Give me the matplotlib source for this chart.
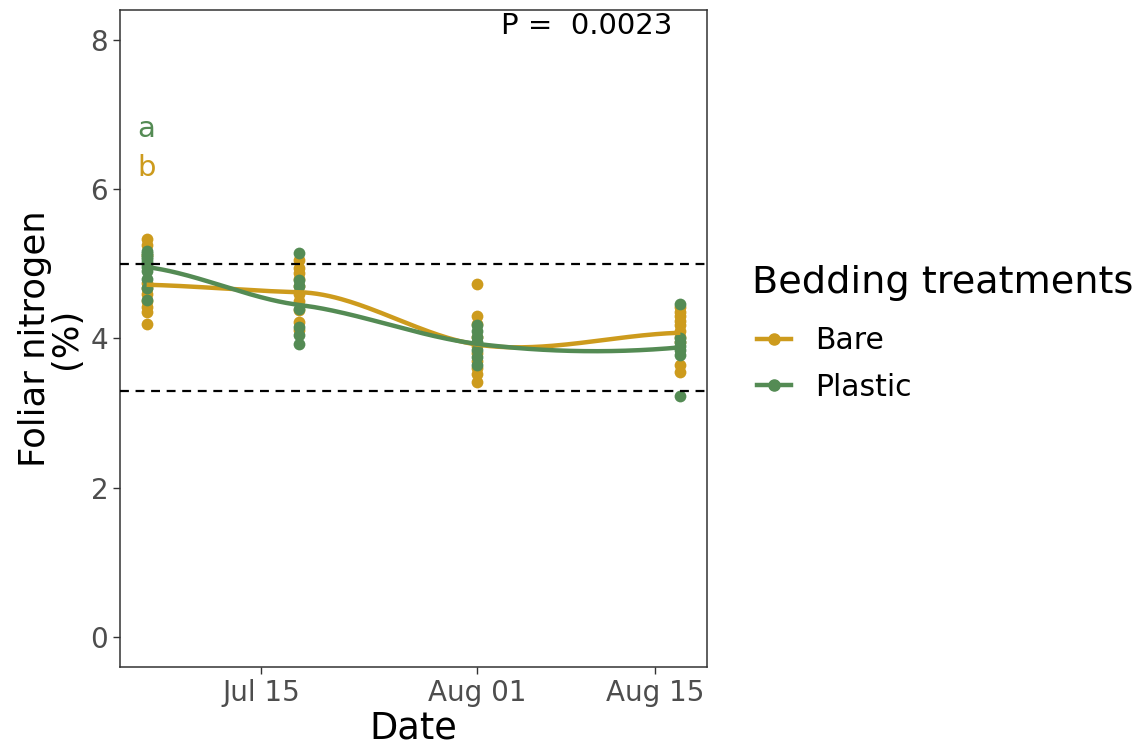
import numpy as np
import matplotlib
matplotlib.use('Agg')
import matplotlib.pyplot as plt
import matplotlib.dates as mdates
from matplotlib.lines import Line2D
from datetime import date

plt.rcParams['font.family'] = ['DejaVu Sans']

# sampling dates
dates = [date(2021, 7, 6), date(2021, 7, 18), date(2021, 8, 1), date(2021, 8, 17)]

# foliar N (%) per sampling date
bare = [
    [5.33, 5.25, 5.12, 4.75, 4.68, 4.60, 4.50, 4.42, 4.35, 4.20],
    [5.05, 4.95, 4.88, 4.80, 4.70, 4.60, 4.50, 4.38, 4.22, 4.12],
    [4.73, 4.30, 4.20, 4.02, 3.90, 3.80, 3.70, 3.60, 3.52, 3.42],
    [4.42, 4.36, 4.30, 4.24, 4.18, 4.10, 4.02, 3.95, 3.65, 3.55],
]
plastic = [
    [5.17, 5.15, 5.12, 5.09, 5.06, 5.03, 5.00, 4.96, 4.90, 4.80, 4.68, 4.52],
    [5.14, 4.78, 4.70, 4.40, 4.15, 4.05, 3.93],
    [4.18, 4.10, 4.02, 3.95, 3.85, 3.75, 3.65],
    [4.46, 4.00, 3.95, 3.90, 3.85, 3.78, 3.23],
]

groups = ['Bare', 'Plastic']
colors = {'Bare': '#CD9B1D', 'Plastic': '#548B54'}
thresholds = [5.0, 3.3]
letters = {'Plastic': ('a', 6.8), 'Bare': ('b', 6.28)}
p_text = 'P =  0.0023'


def local_fit(x, y, x0, span=0.75):
    # local quadratic (tricube weights), returns value and slope at x0
    n = len(x)
    q = int(np.floor(n * span))
    d = np.abs(x - x0)
    h = np.sort(d)[q - 1]
    w = np.clip(1 - (d / h) ** 3, 0, None) ** 3
    t = x - x0
    X = np.vstack([np.ones(n), t, t ** 2]).T * np.sqrt(w)[:, None]
    norms = np.linalg.norm(X, axis=0)
    beta = np.linalg.lstsq(X / norms, y * np.sqrt(w), rcond=1e-7)[0] / norms
    return beta[0], beta[1]


def loess_curve(x, y, knots, npts=60):
    # fit at the knots, cubic Hermite in between
    fits = [local_fit(x, y, k) for k in knots]
    xs_all, ys_all = [], []
    for i in range(len(knots) - 1):
        x0, x1 = knots[i], knots[i + 1]
        (y0, m0), (y1, m1) = fits[i], fits[i + 1]
        hh = x1 - x0
        s = np.linspace(0, 1, npts)
        h00 = 2 * s ** 3 - 3 * s ** 2 + 1
        h10 = s ** 3 - 2 * s ** 2 + s
        h01 = -2 * s ** 3 + 3 * s ** 2
        h11 = s ** 3 - s ** 2
        xs_all.append(x0 + s * hh)
        ys_all.append(h00 * y0 + h10 * hh * m0 + h01 * y1 + h11 * hh * m1)
    return np.concatenate(xs_all), np.concatenate(ys_all)


dnum = mdates.date2num(dates)

fig = plt.figure(figsize=(11.38, 7.46), dpi=100)
ax = fig.add_axes([0.1054, 0.1059, 0.5159, 0.8807])

for g, vals in zip(groups, [bare, plastic]):
    xx = np.concatenate([[d] * len(v) for d, v in zip(dnum, vals)])
    yy = np.concatenate(vals)
    ax.scatter(xx, yy, s=72, color=colors[g], linewidths=0, zorder=2)

for g, vals in zip(groups, [bare, plastic]):
    xx = np.concatenate([[d] * len(v) for d, v in zip(dnum, vals)])
    yy = np.concatenate(vals)
    cx, cy = loess_curve(xx, yy, dnum)
    ax.plot(cx, cy, color=colors[g], lw=3.2, zorder=3, solid_capstyle='butt')

for t in thresholds:
    ax.axhline(t, color='black', lw=1.6, ls=(0, (4, 3)), zorder=4)

for g, (lab, yv) in letters.items():
    ax.text(dnum[0], yv, lab, color=colors[g], fontsize=21, ha='center', va='center')

ax.text(mdates.date2num(date(2021, 8, 9)) + 0.6, 8.18, p_text, fontsize=21,
        ha='center', va='center', color='black')

span = dnum[-1] - dnum[0]
ax.set_xlim(dnum[0] - 0.05 * span, dnum[-1] + 0.05 * span)
ax.set_ylim(-0.4, 8.4)
ax.set_yticks([0, 2, 4, 6, 8])
ax.set_xticks(mdates.date2num([date(2021, 7, 15), date(2021, 8, 1), date(2021, 8, 15)]))
ax.xaxis.set_major_formatter(mdates.DateFormatter('%b %d'))
ax.tick_params(colors='#333333', labelcolor='#4D4D4D', labelsize=20, length=5, width=1)
for s in ax.spines.values():
    s.set_color('#333333')
    s.set_linewidth(1.1)

ax.set_xlabel('Date', fontsize=26.5, labelpad=2)
ax.set_ylabel('Foliar nitrogen\n(%)', fontsize=25.5, labelpad=5, linespacing=0.9)

# legend: title placed separately for the wider gap above the keys
fig.text(752 / 1138, 1 - 283 / 746, 'Bedding treatments', fontsize=27.5, va='center', ha='left')
handles = [Line2D([0], [0], color=colors[g], lw=3.2, marker='o', markersize=8) for g in groups]
leg = fig.legend(handles, groups, loc='center left',
                 bbox_to_anchor=(0.6416, 1 - 364 / 746), frameon=False, fontsize=21.5,
                 handlelength=1.13, handletextpad=0.8, labelspacing=0.58)

fig.savefig('out.png', dpi=100)
